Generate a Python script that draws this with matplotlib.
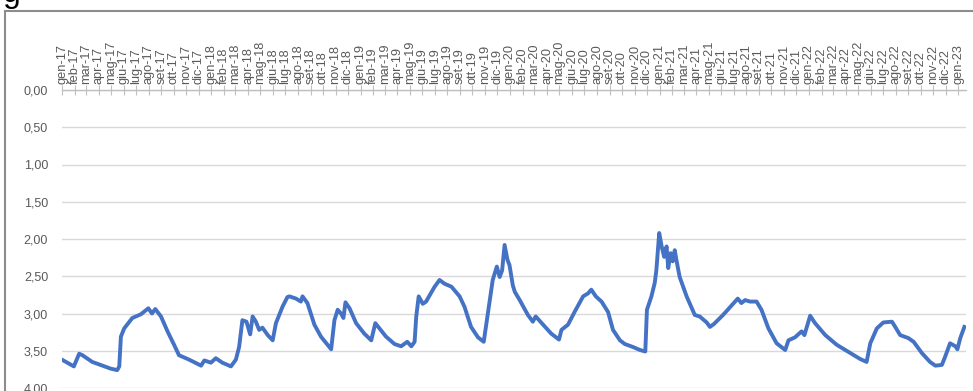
import matplotlib
matplotlib.use("Agg")
import matplotlib.pyplot as plt
import matplotlib.dates as mdates
from matplotlib.patches import Rectangle
from matplotlib.ticker import FuncFormatter
import pandas as pd

# values (depth, axis inverted)
dates = [
    "2017-01-01", "2017-01-30", "2017-02-12", "2017-02-20", "2017-03-16", "2017-04-10",
    "2017-04-30", "2017-05-16", "2017-05-21", "2017-05-25", "2017-06-02", "2017-06-22",
    "2017-07-13", "2017-07-31", "2017-08-09", "2017-08-17", "2017-08-31", "2017-09-16",
    "2017-10-02", "2017-10-14", "2017-11-08", "2017-12-07", "2017-12-15", "2017-12-31",
    "2018-01-12", "2018-01-28", "2018-02-18", "2018-03-02", "2018-03-10", "2018-03-18",
    "2018-03-28", "2018-04-06", "2018-04-12", "2018-04-20", "2018-04-28", "2018-05-06",
    "2018-05-19", "2018-05-31", "2018-06-08", "2018-06-24", "2018-07-06", "2018-07-11",
    "2018-07-27", "2018-08-08", "2018-08-12", "2018-08-24", "2018-09-10", "2018-09-26",
    "2018-10-21", "2018-10-29", "2018-11-06", "2018-11-14", "2018-11-20", "2018-11-25",
    "2018-12-05", "2018-12-21", "2019-01-10", "2019-01-27", "2019-02-06", "2019-02-16",
    "2019-03-04", "2019-03-25", "2019-04-10", "2019-04-25", "2019-05-05", "2019-05-13",
    "2019-05-17", "2019-05-23", "2019-06-02", "2019-06-10", "2019-07-01", "2019-07-13",
    "2019-07-25", "2019-08-11", "2019-08-31", "2019-09-12", "2019-09-28", "2019-10-15",
    "2019-10-29", "2019-11-08", "2019-11-20", "2019-11-30", "2019-12-07", "2019-12-13",
    "2019-12-19", "2019-12-26", "2019-12-31", "2020-01-08", "2020-01-13", "2020-01-25",
    "2020-02-14", "2020-02-26", "2020-03-04", "2020-03-22", "2020-04-11", "2020-04-30",
    "2020-05-06", "2020-05-22", "2020-06-07", "2020-06-28", "2020-07-10", "2020-07-18",
    "2020-07-29", "2020-08-12", "2020-08-28", "2020-09-09", "2020-09-26", "2020-10-08",
    "2020-10-28", "2020-11-14", "2020-11-27", "2020-12-01", "2020-12-12", "2020-12-20",
    "2020-12-24", "2020-12-31", "2021-01-06", "2021-01-12", "2021-01-18", "2021-01-22",
    "2021-01-28", "2021-02-02", "2021-02-07", "2021-02-11", "2021-02-19", "2021-03-08",
    "2021-03-28", "2021-04-09", "2021-04-26", "2021-05-04", "2021-05-14", "2021-06-05",
    "2021-07-11", "2021-07-20", "2021-07-29", "2021-08-10", "2021-08-26", "2021-09-07",
    "2021-09-24", "2021-10-14", "2021-11-04", "2021-11-12", "2021-11-28", "2021-12-14",
    "2021-12-21", "2022-01-04", "2022-01-16", "2022-02-10", "2022-03-10", "2022-04-12",
    "2022-05-06", "2022-05-22", "2022-05-31", "2022-06-16", "2022-07-02", "2022-07-23",
    "2022-07-31", "2022-08-12", "2022-09-01", "2022-09-14", "2022-10-04", "2022-10-24",
    "2022-11-06", "2022-11-22", "2022-11-30", "2022-12-12", "2022-12-25", "2022-12-30",
    "2023-01-06", "2023-01-16",
]
depth = [
    3.62, 3.71, 3.54, 3.56, 3.65, 3.70,
    3.74, 3.76, 3.71, 3.31, 3.20, 3.06,
    3.01, 2.93, 3.00, 2.94, 3.04, 3.24,
    3.42, 3.56, 3.62, 3.70, 3.63, 3.66,
    3.60, 3.66, 3.71, 3.62, 3.45, 3.09,
    3.11, 3.28, 3.04, 3.11, 3.22, 3.19,
    3.29, 3.36, 3.13, 2.91, 2.78, 2.77,
    2.80, 2.84, 2.77, 2.86, 3.15, 3.31,
    3.48, 3.09, 2.95, 3.00, 3.06, 2.85,
    2.93, 3.13, 3.27, 3.36, 3.13, 3.20,
    3.31, 3.41, 3.44, 3.38, 3.44, 3.38,
    3.04, 2.77, 2.87, 2.84, 2.64, 2.55,
    2.60, 2.64, 2.77, 2.91, 3.18, 3.32,
    3.38, 3.00, 2.55, 2.37, 2.51, 2.42,
    2.08, 2.28, 2.35, 2.62, 2.71, 2.82,
    3.02, 3.11, 3.04, 3.15, 3.27, 3.35,
    3.22, 3.15, 2.98, 2.77, 2.73, 2.68,
    2.77, 2.84, 2.98, 3.22, 3.36, 3.41,
    3.45, 3.49, 3.51, 2.95, 2.77, 2.59,
    2.42, 1.92, 2.10, 2.24, 2.10, 2.39,
    2.19, 2.30, 2.15, 2.28, 2.51, 2.77,
    3.02, 3.04, 3.12, 3.18, 3.14, 3.02,
    2.80, 2.86, 2.82, 2.84, 2.84, 2.95,
    3.20, 3.40, 3.49, 3.36, 3.32, 3.24,
    3.29, 3.03, 3.13, 3.29, 3.42, 3.53,
    3.61, 3.65, 3.40, 3.20, 3.12, 3.11,
    3.18, 3.29, 3.33, 3.38, 3.53, 3.65,
    3.70, 3.69, 3.58, 3.40, 3.44, 3.48,
    3.33, 3.18,
]
month_names = ["gen", "feb", "mar", "apr", "mag", "giu",
               "lug", "ago", "set", "ott", "nov", "dic"]
y_ticks = [0.0, 0.5, 1.0, 1.5, 2.0, 2.5, 3.0, 3.5, 4.0]

W, H = 973, 391
fig = plt.figure(figsize=(W / 100, H / 100), dpi=100)
plt.rcParams["font.family"] = ["Liberation Sans", "DejaVu Sans"]

ax = fig.add_axes([62 / W, 1 - 388 / H, (966 - 62) / W, (388 - 90) / H])
x = pd.to_datetime(dates)
ax.plot(x, depth, color="#4472C4", lw=2.8, solid_joinstyle="round")

ax.set_ylim(4.0, 0.0)
ax.set_xlim(pd.Timestamp("2017-01-01"), pd.Timestamp("2023-01-20"))
ax.set_yticks(y_ticks)
ax.yaxis.set_major_formatter(FuncFormatter(lambda v, p: f"{v:.2f}".replace(".", ",")))
ax.tick_params(axis="y", length=0, pad=10, labelsize=9, labelcolor="#595959")
ax.yaxis.grid(True, color="#d9d9d9", lw=1)
ax.set_axisbelow(True)


def month_label(v, pos):
    d = mdates.num2date(v)
    return f"{month_names[d.month - 1]}-{d.year % 100:02d}"


ax.xaxis.tick_top()
ax.xaxis.set_major_locator(mdates.MonthLocator())
ax.xaxis.set_major_formatter(FuncFormatter(month_label))
ax.tick_params(axis="x", direction="inout", length=7, width=0.8, color="#bfbfbf",
               labelsize=9.2, labelcolor="#595959", labelrotation=90, pad=1)

for s in ["left", "right", "bottom"]:
    ax.spines[s].set_visible(False)
ax.spines["top"].set_color("#bfbfbf")
ax.spines["top"].set_linewidth(1)

# outer chart frame, partly cut off by the crop
fig.patches.append(Rectangle((5 / W, -0.1), 1.2, 1.1 - 10.5 / H, transform=fig.transFigure,
                             fill=False, edgecolor="#8c8c8c", lw=1.5))
fig.text(3 / W, 1 - 2 / H, "g", fontsize=23, va="baseline", ha="left", color="black")

fig.savefig("out.png", dpi=100)
